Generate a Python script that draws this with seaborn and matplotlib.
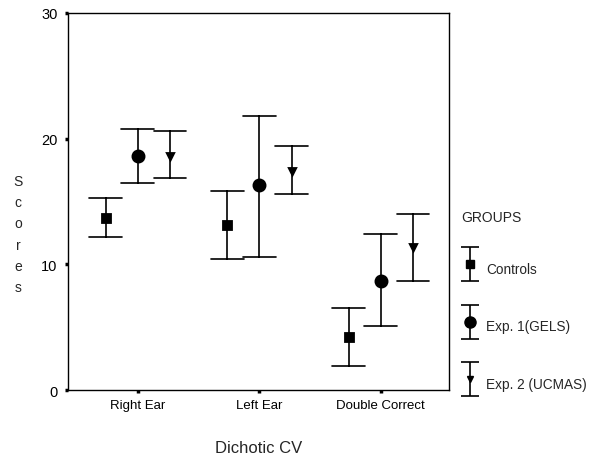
import numpy as np
import pandas as pd
import matplotlib
matplotlib.use("Agg")
import matplotlib.pyplot as plt
import seaborn as sns
from matplotlib.legend_handler import HandlerErrorbar
from matplotlib.container import ErrorbarContainer

# values (mean and error bar ends)
measures = ["Right Ear", "Left Ear", "Double Correct"]
groups = ["Controls", "Exp. 1(GELS)", "Exp. 2 (UCMAS)"]

ctrl_mean = [13.7, 13.1, 4.2]
ctrl_low = [12.2, 10.4, 1.9]
ctrl_high = [15.3, 15.8, 6.5]

exp1_mean = [18.6, 16.3, 8.7]
exp1_low = [16.5, 10.6, 5.1]
exp1_high = [20.8, 21.8, 12.4]

exp2_mean = [18.6, 17.4, 11.4]
exp2_low = [16.9, 15.6, 8.7]
exp2_high = [20.6, 19.4, 14.0]

# long table: median of (low, mean, high) = mean, 100% interval = low..high
rows = []
for g, m, lo, hi in zip(groups,
                        [ctrl_mean, exp1_mean, exp2_mean],
                        [ctrl_low, exp1_low, exp2_low],
                        [ctrl_high, exp1_high, exp2_high]):
    for i, meas in enumerate(measures):
        for v in (lo[i], m[i], hi[i]):
            rows.append({"measure": meas, "group": g, "score": v})
df = pd.DataFrame(rows)

sns.set_style("white")
plt.rcParams["font.family"] = ["Liberation Sans", "DejaVu Sans"]

fig = plt.figure(figsize=(5.98, 4.56), dpi=100)
ax = fig.add_axes([0.1137, 0.1425, 0.637, 0.8268])

sns.pointplot(data=df, x="measure", y="score", hue="group",
              estimator="median", errorbar=("pi", 100),
              dodge=0.53, markers=["s", "o", "v"], linestyles="none",
              palette=["black"] * 3, capsize=0.27, err_kws={"linewidth": 1.2},
              ax=ax, legend=False)

sizes = {"s": 6.2, "o": 8, "v": 5}
for ln in ax.lines:
    mk = ln.get_marker()
    if mk in sizes:
        ln.set_markersize(sizes[mk])

ax.set_xlim(-0.575, 2.56)
ax.set_ylim(0, 30)
ax.set_yticks([0, 10, 20, 30])
ax.set_xlabel("Dichotic CV", fontsize=12, labelpad=21)
ax.set_ylabel("")
ax.tick_params(axis="both", direction="out", length=2.5, width=2.5,
               bottom=True, left=True, colors="black", pad=4)
ax.tick_params(axis="x", labelsize=9.5)
ax.tick_params(axis="y", labelsize=10.5, pad=5)
for s in ax.spines.values():
    s.set_visible(True)
    s.set_color("black")
    s.set_linewidth(1.0)

fig.text(18 / 598, 1 - 235 / 456, "\n".join("Scores"), ha="center", va="center",
         fontsize=10, linespacing=1.65)

# legend glyphs (error bar symbols)
handles = []
for mk in ["s", "o", "v"]:
    c = ax.errorbar([np.nan], [np.nan], yerr=[1], fmt=mk, color="black",
                    markersize=sizes[mk], capsize=6.8, elinewidth=1.2,
                    capthick=1.2)
    handles.append(c)

leg = fig.legend(handles, groups, title="GROUPS", loc="upper left",
                 bbox_to_anchor=(449 / 598, 1 - 199 / 456), frameon=False,
                 fontsize=9.8, title_fontsize=10, handlelength=1.3,
                 handleheight=2.6, labelspacing=2.3, handletextpad=0.5,
                 alignment="left",
                 handler_map={ErrorbarContainer: HandlerErrorbar(yerr_size=1.25)})

fig.savefig("out.png", dpi=100)
